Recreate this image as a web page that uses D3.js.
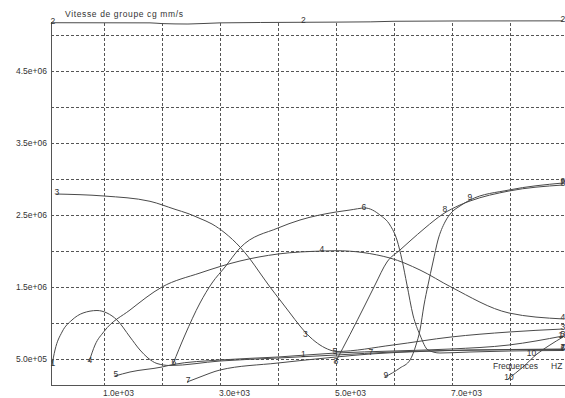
<!DOCTYPE html>
<html>
<head>
<meta charset="utf-8">
<script src="https://cdn.jsdelivr.net/npm/d3@7"></script>
<style>
  html, body { margin: 0; padding: 0; background: #fff; }
  svg { display: block; font-family: "Liberation Sans", Arial, sans-serif; }
</style>
</head>
<body>
<svg id="chart" width="565" height="398"></svg>
<script>
// Axis extents (frequency in Hz, group velocity in mm/s)
const freqDomain = [86, 8948];
const velDomain = [143400, 5180000];

// Grid and tick definitions
const xGrid = [1000, 2000, 3000, 4000, 5000, 6000, 7000, 8000];
const xTicks = [1000, 3000, 5000, 7000];
const xTickLabels = ["1.0e+03", "3.0e+03", "5.0e+03", "7.0e+03"];
const yGrid = [500000, 1000000, 1500000, 2000000, 2500000, 3000000, 3500000, 4000000, 4500000, 5000000];
const yTicks = [500000, 1500000, 2500000, 3500000, 4500000];
const yTickLabels = ["5.0e+05", "1.5e+06", "2.5e+06", "3.5e+06", "4.5e+06"];

// Dispersion curves: [frequency Hz, group velocity mm/s]
const mode1 = [[103, 420900], [155, 629000], [276, 878700], [448, 1045200], [638, 1142300], [879, 1177000],
  [1051, 1142300], [1224, 1045200], [1448, 809400], [1620, 629000], [1758, 518000], [1913, 441700],
  [2138, 413900], [3000, 476400], [4000, 518000], [5000, 559600], [5982, 601200], [6982, 622100],
  [7982, 635900], [8913, 642900]];
const mode2 = [[103, 5170000], [1793, 5168000], [2000, 5158000], [2448, 5152000], [3000, 5168000],
  [4400, 5176000], [5600, 5182000], [6000, 5190000], [7000, 5194000], [8913, 5196000]];
const mode3 = [[172, 2793300], [1000, 2765600], [1793, 2692100], [2224, 2581100], [2448, 2522800],
  [2655, 2453400], [2862, 2377100], [3086, 2252200], [3344, 2058000], [3517, 1891500], [3689, 1697300],
  [3862, 1503100], [4034, 1322700], [4206, 1142300], [4379, 962000], [4551, 809400], [4724, 698400],
  [4896, 629000], [5000, 608200], [5982, 698400], [6982, 809400], [7982, 878700], [8913, 920300]];
const mode4 = [[741, 462500], [845, 698400], [1000, 885700], [1448, 1184000], [2000, 1503100],
  [2655, 1697300], [3344, 1863800], [4000, 1960900], [4775, 2002500], [5000, 2006700], [5930, 1905400],
  [6448, 1738900], [6982, 1503100], [7982, 1142300], [8913, 1060000]];
const mode5 = [[1189, 268300], [1448, 323800], [2000, 393100], [2189, 427800], [3000, 490300],
  [4000, 531900], [5000, 587400], [5982, 615100], [6982, 642900], [7982, 698400], [8913, 823200]];
const mode6 = [[2189, 434800], [2396, 837100], [2655, 1281100], [2862, 1558500], [3086, 1780500],
  [3344, 2044100], [4000, 2321600], [4379, 2432600], [5000, 2543600], [5241, 2571400], [5500, 2599100],
  [5758, 2502000], [5930, 2363200], [6051, 2155100], [6138, 1877700], [6224, 1530800], [6327, 1114600],
  [6448, 837100], [6586, 629000], [6792, 587400], [7310, 601200], [7982, 615100], [8913, 622100]];
const mode7 = [[2431, 185000], [2655, 254400], [3000, 351500], [4000, 448600], [5000, 531900],
  [5586, 573500], [6448, 608200], [7310, 629000], [8913, 635900]];
const mode8 = [[4982, 448600], [5241, 844000], [5500, 1253300], [5672, 1530800], [5879, 1849900],
  [6103, 2016400], [6276, 2141300], [6534, 2321600], [6844, 2515900], [7137, 2640700], [7310, 2696200],
  [7982, 2835000], [8913, 2918200]];
const mode9 = [[5844, 254400], [6103, 379300], [6276, 490300], [6379, 698400], [6448, 906500],
  [6517, 1253300], [6586, 1530800], [6672, 1849900], [6758, 2155100], [6879, 2404900], [7000, 2543600],
  [7137, 2626800], [7310, 2710100], [7982, 2848800], [8913, 2946000]];
const mode10 = [[7965, 226600], [8223, 393100], [8465, 573500], [8689, 698400], [8913, 809400]];

const modes = [mode1, mode2, mode3, mode4, mode5, mode6, mode7, mode8, mode9, mode10];
const modeNames = ["1", "2", "3", "4", "5", "6", "7", "8", "9", "10"];

const chartTitle = "Vitesse de groupe cg mm/s";
const axisTitle = "Frequences";
const axisUnit = "HZ";

const svg = d3.select("#chart");
const plotLeft = 51, plotRight = 565, plotTop = 22, plotBottom = 385;

const x = d3.scaleLinear().domain(freqDomain).range([plotLeft, plotRight]);
const y = d3.scaleLinear().domain(velDomain).range([plotBottom, plotTop]);
const snap = v => Math.round(v) + 0.5;

// dotted grid
const grid = svg.append("g")
  .attr("stroke", "#555").attr("stroke-width", 1)
  .attr("stroke-dasharray", "3,2").attr("shape-rendering", "crispEdges");
grid.selectAll("line.v").data(xGrid).join("line").attr("class", "v")
  .attr("x1", d => snap(x(d))).attr("x2", d => snap(x(d)))
  .attr("y1", plotTop + 1).attr("y2", plotBottom);
grid.selectAll("line.h").data(yGrid).join("line").attr("class", "h")
  .attr("x1", plotLeft).attr("x2", plotRight)
  .attr("y1", d => snap(y(d))).attr("y2", d => snap(y(d)));

// axes frame (left + bottom)
const frame = svg.append("g").attr("stroke", "#555").attr("stroke-width", 1)
  .attr("shape-rendering", "crispEdges");
frame.append("line").attr("x1", snap(plotLeft)).attr("x2", snap(plotLeft))
  .attr("y1", plotTop).attr("y2", plotBottom + 1);
frame.append("line").attr("x1", plotLeft).attr("x2", plotRight)
  .attr("y1", snap(plotBottom)).attr("y2", snap(plotBottom));

// tick labels
const txt = svg.append("g").attr("fill", "#333").attr("font-size", "8.5px");
txt.selectAll("text.xt").data(xTicks).join("text").attr("class", "xt")
  .attr("x", d => x(d) - 1).attr("y", 396)
  .attr("text-anchor", "start")
  .text((d, i) => xTickLabels[i]);
txt.selectAll("text.yt").data(yTicks).join("text").attr("class", "yt")
  .attr("x", 47).attr("y", d => y(d)).attr("dy", "0.35em")
  .attr("text-anchor", "end")
  .text((d, i) => yTickLabels[i]);

// curves
const line = d3.line().x(d => x(d[0])).y(d => y(d[1])).curve(d3.curveMonotoneX);
svg.append("g").attr("fill", "none").attr("stroke", "#4a4a4a").attr("stroke-width", 1)
  .selectAll("path").data(modes).join("path").attr("d", line);

// curve labels at the start, middle and end of each curve
function yAtPx(pts, px) {
  for (let i = 1; i < pts.length; i++) {
    if (pts[i][0] >= px) {
      const [x0, y0] = pts[i - 1], [x1, y1] = pts[i];
      const t = (px - x0) / (x1 - x0 || 1);
      return y0 + t * (y1 - y0);
    }
  }
  return pts[pts.length - 1][1];
}
const labels = [];
modes.forEach((m, i) => {
  const pts = m.map(d => [x(d[0]), y(d[1])]);
  const first = pts[0], last = pts[pts.length - 1];
  const mx = (first[0] + last[0]) / 2;
  labels.push({ t: modeNames[i], x: first[0] + 1, y: first[1] });
  labels.push({ t: modeNames[i], x: mx - 4, y: yAtPx(pts, mx) });
  labels.push({ t: modeNames[i], x: last[0], y: last[1] });
});
svg.append("g").attr("fill", "#333").attr("font-size", "8.5px").attr("text-anchor", "middle")
  .selectAll("text").data(labels).join("text")
  .attr("x", d => d.x).attr("y", d => d.y - 2).attr("dy", "0.35em")
  .text(d => d.t);

// titles
svg.append("text").attr("x", 65).attr("y", 14).attr("dy", "0.35em")
  .attr("font-size", "8.5px").attr("fill", "#333")
  .attr("textLength", 118).attr("lengthAdjust", "spacing")
  .text(chartTitle);
svg.append("text").attr("x", 493).attr("y", 366).attr("dy", "0.35em")
  .attr("font-size", "8.5px").attr("fill", "#333")
  .text(axisTitle);
svg.append("text").attr("x", 551).attr("y", 366).attr("dy", "0.35em")
  .attr("font-size", "8.5px").attr("fill", "#333")
  .text(axisUnit);
</script>
</body>
</html>
